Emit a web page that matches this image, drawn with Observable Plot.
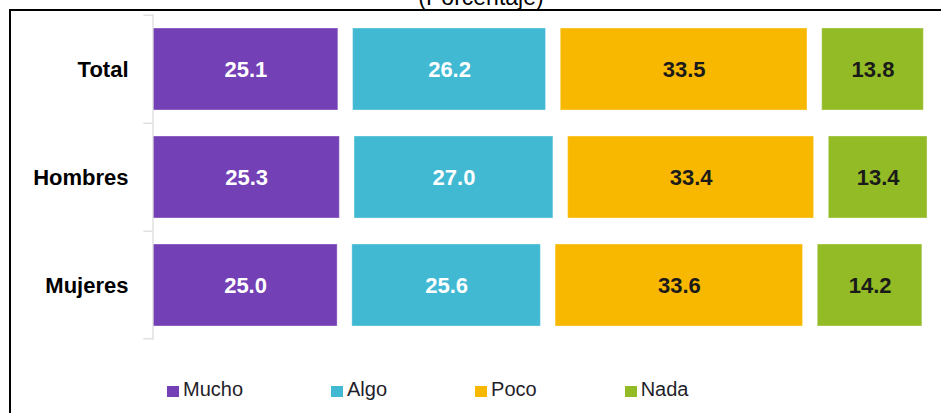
<!DOCTYPE html>
<html>
<head>
<meta charset="utf-8">
<script src="https://cdn.jsdelivr.net/npm/d3@7"></script>
<script src="https://cdn.jsdelivr.net/npm/@observablehq/plot@0.6"></script>
<style>
  html, body { margin: 0; padding: 0; background: #fff; }
  #wrap { position: relative; width: 941px; height: 413px; overflow: hidden; font-family: "Liberation Sans", Arial, sans-serif; }
  #title { position: absolute; left: 0; width: 962px; top: -14px; text-align: center; font-size: 23px; line-height: 1; color: #000; }
  #frame { position: absolute; left: 9px; top: 9px; width: 1100px; height: 600px; border-left: 2px solid #000; border-top: 2px solid #000; pointer-events: none; }
  #chart { position: absolute; left: 0; top: 0; }
  #legend { position: absolute; left: 167px; top: 378px; display: flex; align-items: center; font-size: 20px; color: #1f1f2a; }
  #legend .item { display: flex; align-items: center; }
  #legend .sw { width: 12px; height: 11px; margin-right: 4px; margin-top: 3px; }
</style>
</head>
<body>
<div id="wrap">
  <div id="chart"></div>
  <div id="frame"></div>
  <div id="title">(Porcentaje)</div>
  <div id="legend"></div>
</div>
<script>
// ---- Data ----
const categories = ["Total", "Hombres", "Mujeres"];
const series = ["Mucho", "Algo", "Poco", "Nada"];
const mucho = [25.1, 25.3, 25.0];
const algo  = [26.2, 27.0, 25.6];
const poco  = [33.5, 33.4, 33.6];
const nada  = [13.8, 13.4, 14.2];
const seriesColors = ["#7440b6", "#41b9d3", "#f9b800", "#93bb25"];
const darkLabelSeries = ["Poco", "Nada"];
const GAP = 2; // spacer between segments (percentage units), as in the original stacked chart

const valuesBySeries = [mucho, algo, poco, nada];

const rows = [];
categories.forEach((cat, i) => {
  let cum = 0;
  series.forEach((s, j) => {
    const v = valuesBySeries[j][i];
    rows.push({cat, series: s, value: v, x1: cum, x2: cum + v});
    cum += v + GAP;
  });
});

const W = 941, H = 340, MT = 14, MB = 0, ML = 153;
const step = (H - MT - MB) / categories.length;

const chart = Plot.plot({
  width: W,
  height: H,
  marginLeft: ML,
  marginRight: 0,
  marginTop: MT,
  marginBottom: MB,
  style: {background: "transparent", fontFamily: "'Liberation Sans', Arial, sans-serif", color: "#000"},
  x: {domain: [0, 107], axis: null},
  y: {domain: categories, paddingInner: 0.245, paddingOuter: 0.1225, label: null},
  color: {domain: series, range: seriesColors},
  marks: [
    Plot.barX(rows, {x1: "x1", x2: "x2", y: "cat", fill: "series", stroke: "#ffffff", strokeOpacity: 0.35, strokeWidth: 1}),
    Plot.ruleX([0], {stroke: "#d9d9d9", strokeWidth: 1.2, dx: -0.5}),
    Plot.ruleY(categories, {y: d => d, x1: -1.25, x2: 0, dy: -step / 2, dx: -0.5, stroke: "#d9d9d9", strokeWidth: 1.2}),
    Plot.ruleY(categories.slice(-1), {y: d => d, x1: -1.25, x2: 0, dy: step / 2 - 1, dx: -0.5, stroke: "#d9d9d9", strokeWidth: 1.2}),
    Plot.axisY({tickSize: 0, tickPadding: 25, fontSize: 22, fontWeight: "bold", fill: "#000", label: null}),
    Plot.text(rows.filter(d => !darkLabelSeries.includes(d.series)), {
      x: d => (d.x1 + d.x2) / 2, y: "cat", text: d => d.value.toFixed(1),
      fill: "#ffffff", fontSize: 22, fontWeight: "bold"
    }),
    Plot.text(rows.filter(d => darkLabelSeries.includes(d.series)), {
      x: d => (d.x1 + d.x2) / 2, y: "cat", text: d => d.value.toFixed(1),
      fill: "#1a1a1a", fontSize: 22, fontWeight: "bold"
    })
  ]
});
document.getElementById("chart").appendChild(chart);

// Legend built from the same series/colours
const legend = document.getElementById("legend");
const legendGaps = [88, 88, 88, 0];
series.forEach((s, j) => {
  const item = document.createElement("div");
  item.className = "item";
  item.style.marginRight = legendGaps[j] + "px";
  const sw = document.createElement("span");
  sw.className = "sw";
  sw.style.background = seriesColors[j];
  const t = document.createElement("span");
  t.textContent = s;
  item.appendChild(sw);
  item.appendChild(t);
  legend.appendChild(item);
});
</script>
</body>
</html>
